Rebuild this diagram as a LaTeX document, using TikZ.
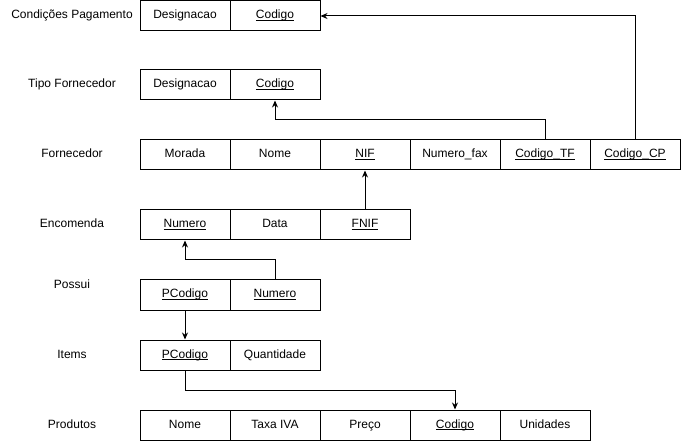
\documentclass[tikz,border=0pt]{standalone}
\usepackage{fontspec}
\setmainfont{Liberation Sans}
\usetikzlibrary{arrows.meta}
\newcommand{\pk}[1]{\underline{\smash{#1}}}

\begin{document}
\begin{tikzpicture}[x=1pt, y=-1pt, font=\fontsize{12}{14}\selectfont,
  cell/.style={draw, line width=1pt, minimum width=90pt, minimum height=30pt,
               inner sep=0pt, text height=8.6pt, text depth=2.6pt},
  relname/.style={inner sep=0pt, text height=8.6pt, text depth=2.6pt},
  fk/.style={line width=1pt, -{Stealth[length=7pt, width=6pt]}}]
  \useasboundingbox (0,0) rectangle (681,441);

  % relation names
  \foreach \n/\y/\txt in {cp/16/Condições Pagamento, tf/85/Tipo Fornecedor,
                          fn/155/Fornecedor, en/225/Encomenda, po/285/Possui,
                          it/355/Items, pr/425/Produtos}
    \node[relname] (l\n) at (72,\y) {\txt};

  % tables, one cell per attribute
  \foreach \i/\txt in {1/Designacao, 2/{\pk{Codigo}}}
    \node[cell] (cp\i) at (95+90*\i,16) {\txt};
  \foreach \i/\txt in {1/Designacao, 2/{\pk{Codigo}}}
    \node[cell] (tf\i) at (95+90*\i,85) {\txt};
  \foreach \i/\txt in {1/Morada, 2/Nome, 3/{\pk{NIF}}, 4/Numero\_fax,
                       5/{\pk{Codigo\_TF}}, 6/{\pk{Codigo\_CP}}}
    \node[cell] (fn\i) at (95+90*\i,155) {\txt};
  \foreach \i/\txt in {1/{\pk{Numero}}, 2/Data, 3/{\pk{FNIF}}}
    \node[cell] (en\i) at (95+90*\i,225) {\txt};
  \foreach \i/\txt in {1/{\pk{PCodigo}}, 2/{\pk{Numero}}}
    \node[cell] (po\i) at (95+90*\i,295) {\txt};
  \foreach \i/\txt in {1/{\pk{PCodigo}}, 2/Quantidade}
    \node[cell] (it\i) at (95+90*\i,355) {\txt};
  \foreach \i/\txt in {1/Nome, 2/Taxa IVA, 3/Preço, 4/{\pk{Codigo}}, 5/Unidades}
    \node[cell] (pr\i) at (95+90*\i,425) {\txt};

  % foreign keys
  \draw[fk] (fn6.north) |- (cp2.east);
  \draw[fk] (fn5.north) -- ++(0,-20) -| (tf2.south);
  \draw[fk] (en3.north) -- (fn3.south);
  \draw[fk] (po2.north) -- ++(0,-20) -| (en1.south);
  \draw[fk] (po1.south) -- (it1.north);
  \draw[fk] (it1.south) -- ++(0,20) -| (pr4.north);
\end{tikzpicture}
\end{document}
